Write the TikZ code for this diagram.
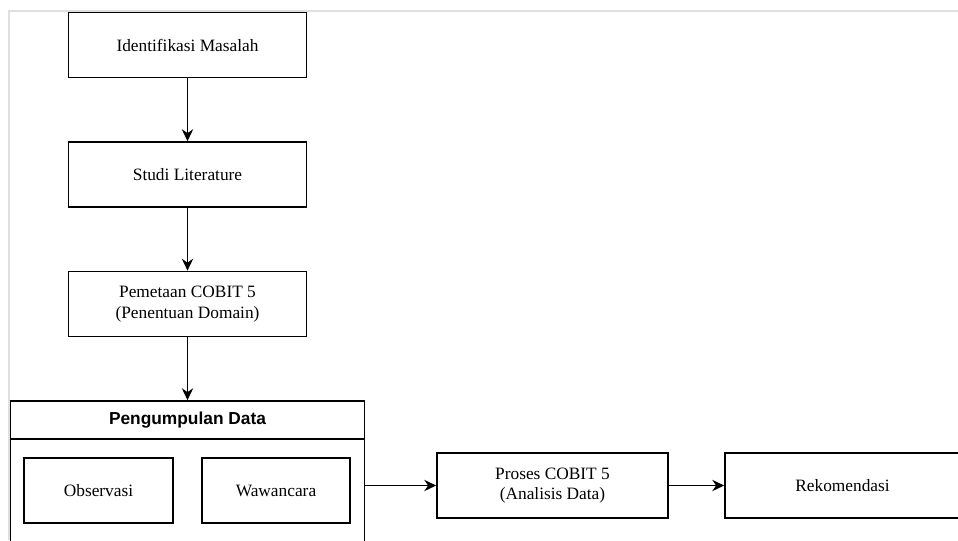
\documentclass[tikz,border=0pt]{standalone}
\usepackage{fontspec}
\setmainfont{Liberation Serif}
\newfontfamily\headfont{Liberation Sans}
\usetikzlibrary{arrows.meta}

\begin{document}
\begin{tikzpicture}[x=0.75pt,y=-0.75pt,
		box/.style={draw,line width=1.2pt,inner sep=0pt,align=center,
			minimum width=178.5pt,minimum height=48.75pt,font=\fontsize{13}{15.5}\selectfont},
		arr/.style={-{Stealth[length=9pt,width=8.5pt,inset=3pt]},line width=1.1pt}]
		\useasboundingbox (0,0) rectangle (958,540);
		\clip (0,0) rectangle (958,540);
		% frame
		\draw [gray!25,line width=1.2pt] (9,540) -- (9,11) -- (958,11);
		% alur utama
		\node [box] (identifikasi) at (187.5,45) {Identifikasi Masalah};
		\node [box] (studi) at (187.5,174.5) {Studi Literature};
		\node [box] (pemetaan) at (187.5,304) {Pemetaan COBIT 5\\(Penentuan Domain)};
		% pengumpulan data
		\node [draw,line width=1.2pt,minimum width=265.5pt,minimum height=119.25pt,inner sep=0pt] (kumpul) at (187.5,480.5) {};
		\node [draw,line width=1.2pt,minimum width=265.5pt,minimum height=28.5pt,inner sep=0pt,
			font=\headfont\bfseries\fontsize{13}{15.5}\selectfont] (judul) at (187.5,420) {Pengumpulan Data};
		\node [box,minimum width=111.75pt] (observasi) at (98.5,490.5) {Observasi};
		\node [box,minimum width=111pt] (wawancara) at (276,490.5) {Wawancara};
		% hasil
		\node [box,minimum width=173.25pt] (proses) at (552.5,485.5) {Proses COBIT 5\\(Analisis Data)};
		\node [box,minimum width=176.25pt] (rekomendasi) at (842.5,485.5) {Rekomendasi};
		\draw [arr] (identifikasi) -- (studi);
		\draw [arr] (studi) -- (pemetaan);
		\draw [arr] (pemetaan) -- (judul);
		\draw [arr] (proses.west -| kumpul.east) -- (proses.west);
		\draw [arr] (proses) -- (rekomendasi);
	\end{tikzpicture}
\end{document}
